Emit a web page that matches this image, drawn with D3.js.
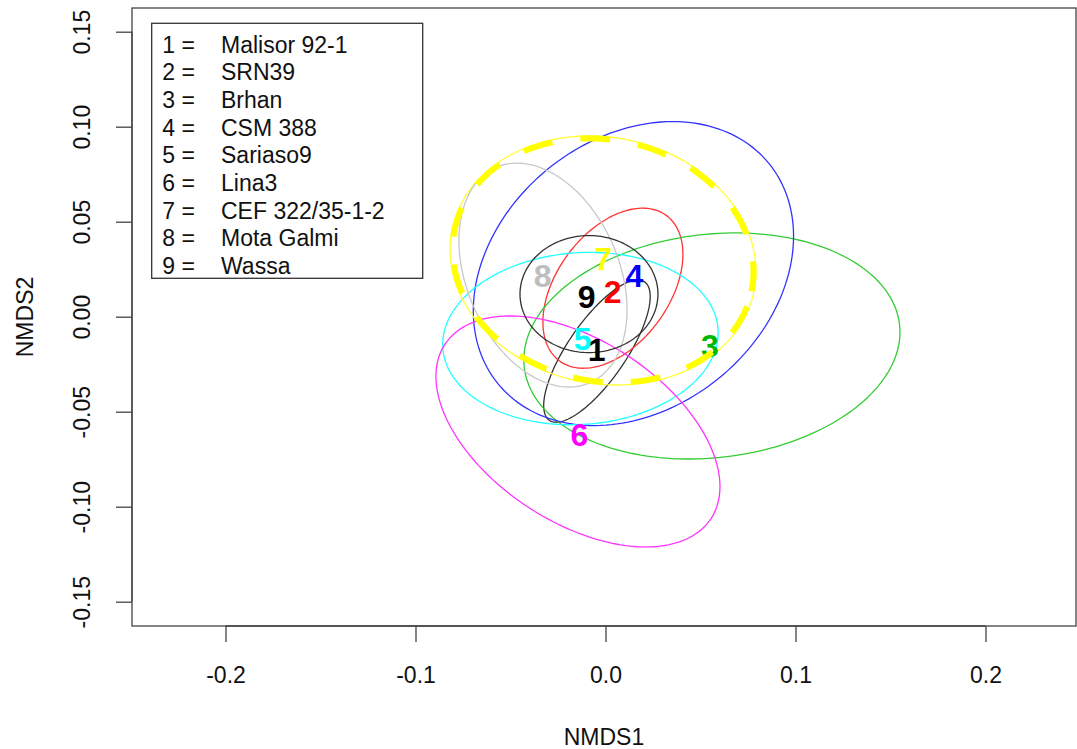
<!DOCTYPE html>
<html>
<head>
<meta charset="utf-8">
<script src="https://cdn.jsdelivr.net/npm/d3@7"></script>
<style>
  body { margin: 0; background: #fff; }
  svg text { font-family: "Liberation Sans", Arial, Helvetica, sans-serif; }
</style>
</head>
<body>
<div id="chart"></div>
<script>
// NMDS ordination, group ellipses + centroid labels
var groups = ["1", "2", "3", "4", "5", "6", "7", "8", "9"];
var names = ["Malisor 92-1", "SRN39", "Brhan", "CSM 388", "Sariaso9",
             "Lina3", "CEF 322/35-1-2", "Mota Galmi", "Wassa"];

// centroid positions (NMDS1, NMDS2)
var centX = [-0.0046, 0.0038, 0.0550, 0.0152, -0.0120, -0.0138, -0.0012, -0.0331, -0.0099];
var centY = [-0.0175, 0.0132, -0.0149, 0.0219, -0.0112, -0.0620, 0.0309, 0.0219, 0.0109];

// ellipse centre, semi axes and rotation (degrees)
var ellX = [-0.0045, 0.0039, 0.0560, 0.0147, -0.0132, -0.0145, -0.0013, -0.0329, -0.0087];
var ellY = [-0.0181, 0.0150, -0.0154, 0.0227, -0.0115, -0.0604, 0.0296, 0.0219, 0.0119];
var ellA = [0.0442, 0.0475, 0.0994, 0.0919, 0.0726, 0.0837, 0.0811, 0.0618, 0.0363];
var ellB = [0.0153, 0.0296, 0.0588, 0.0711, 0.0452, 0.0477, 0.0648, 0.0401, 0.0308];
var ellAng = [55.5, 53.8, 6.5, 39, 4, -33.2, -11.7, -66.6, 0];

// extra dashed ellipse for group 7
var dashEll = {x: -0.0013, y: 0.0296, a: 0.0798, b: 0.0635, ang: -11.7};

var xTicks = [-0.2, -0.1, 0.0, 0.1, 0.2];
var xTickLabels = ["-0.2", "-0.1", "0.0", "0.1", "0.2"];
var yTicks = [-0.15, -0.10, -0.05, 0.00, 0.05, 0.10, 0.15];
var yTickLabels = ["-0.15", "-0.10", "-0.05", "0.00", "0.05", "0.10", "0.15"];

var lineCols = ["#333333", "#ff3333", "#33cc33", "#3333ff", "#22ffff", "#ff33ff", "#ffff33", "#c8c8c8", "#333333"];
var textCols = ["#000000", "#ff0000", "#00b800", "#0000ff", "#00ffff", "#ff00ff", "#ffff00", "#bebebe", "#000000"];

var W = 1077, H = 749;
var box = {left: 132, right: 1076, top: 8, bottom: 626};

var svg = d3.select("#chart").append("svg")
    .attr("width", W)
    .attr("height", H);

var x = d3.scaleLinear()
    .domain([(box.left - 605.5) / 1900, (box.right - 605.5) / 1900])
    .range([box.left, box.right]);
var y = d3.scaleLinear()
    .domain([(316.7 - box.bottom) / 1900, (316.7 - box.top) / 1900])
    .range([box.bottom, box.top]);

// clip everything to plot region
svg.append("clipPath").attr("id", "plotclip")
  .append("rect")
    .attr("x", box.left).attr("y", box.top)
    .attr("width", box.right - box.left).attr("height", box.bottom - box.top);

function ellipsePoints(cx, cy, a, b, angDeg) {
  var th = angDeg * Math.PI / 180, pts = [];
  for (var k = 0; k < 180; k++) {
    var t = k / 180 * 2 * Math.PI;
    var ex = a * Math.cos(t), ey = b * Math.sin(t);
    pts.push([cx + ex * Math.cos(th) - ey * Math.sin(th),
              cy + ex * Math.sin(th) + ey * Math.cos(th)]);
  }
  return pts;
}

var line = d3.line()
    .x(function(d) { return x(d[0]); })
    .y(function(d) { return y(d[1]); })
    .curve(d3.curveLinearClosed);

var plot = svg.append("g").attr("clip-path", "url(#plotclip)");

plot.selectAll("path.ell")
    .data(groups)
  .enter().append("path")
    .attr("class", "ell")
    .attr("d", function(d, i) { return line(ellipsePoints(ellX[i], ellY[i], ellA[i], ellB[i], ellAng[i])); })
    .attr("fill", "none")
    .attr("stroke", function(d, i) { return lineCols[i]; })
    .attr("stroke-width", 1.3);

plot.selectAll("text.lab")
    .data(groups)
  .enter().append("text")
    .attr("class", "lab")
    .attr("x", function(d, i) { return x(centX[i]); })
    .attr("y", function(d, i) { return y(centY[i]); })
    .attr("dy", "0.36em")
    .attr("text-anchor", "middle")
    .attr("font-size", "32px")
    .attr("font-weight", "bold")
    .attr("fill", function(d, i) { return textCols[i]; })
    .text(function(d) { return d; });

plot.append("path")
    .attr("d", line(ellipsePoints(dashEll.x, dashEll.y, dashEll.a, dashEll.b, dashEll.ang)))
    .attr("fill", "none")
    .attr("stroke", "#ffff00")
    .attr("stroke-width", 6)
    .attr("stroke-dasharray", "30 28");

// box
svg.append("rect")
    .attr("x", box.left).attr("y", box.top)
    .attr("width", box.right - box.left).attr("height", box.bottom - box.top)
    .attr("fill", "none")
    .attr("stroke", "#444")
    .attr("stroke-width", 1.3);

// x axis
var xAxis = svg.append("g")
    .attr("transform", "translate(0," + box.bottom + ")")
    .call(d3.axisBottom(x).tickValues(xTicks).tickSize(16).tickSizeOuter(0)
      .tickFormat(function(d, i) { return xTickLabels[i]; }));
xAxis.select(".domain").remove();
xAxis.append("line")
    .attr("x1", x(xTicks[0])).attr("x2", x(xTicks[xTicks.length - 1]))
    .attr("stroke", "#444").attr("stroke-width", 1.3);
xAxis.selectAll(".tick line").attr("stroke", "#444").attr("stroke-width", 1.3);
xAxis.selectAll(".tick text")
    .attr("y", 57).attr("dy", null)
    .attr("font-size", "23px")
    .attr("font-family", "Liberation Sans, Arial, sans-serif")
    .attr("fill", "#111");

// y axis
var yAxis = svg.append("g")
    .attr("transform", "translate(" + box.left + ",0)")
    .call(d3.axisLeft(y).tickValues(yTicks).tickSize(16).tickSizeOuter(0)
      .tickFormat(function(d, i) { return yTickLabels[i]; }));
yAxis.select(".domain").remove();
yAxis.append("line")
    .attr("y1", y(yTicks[0])).attr("y2", y(yTicks[yTicks.length - 1]))
    .attr("stroke", "#444").attr("stroke-width", 1.3);
yAxis.selectAll(".tick line").attr("stroke", "#444").attr("stroke-width", 1.3);
yAxis.selectAll(".tick text")
    .attr("x", null).attr("dy", null)
    .attr("text-anchor", "middle")
    .attr("transform", "translate(-42,0) rotate(-90)")
    .attr("font-size", "23px")
    .attr("font-family", "Liberation Sans, Arial, sans-serif")
    .attr("fill", "#111");

// axis titles
svg.append("text")
    .attr("x", (box.left + box.right) / 2)
    .attr("y", 745)
    .attr("text-anchor", "middle")
    .attr("font-size", "23px")
    .attr("fill", "#111")
    .text("NMDS1");

svg.append("text")
    .attr("transform", "translate(33," + (box.top + box.bottom) / 2 + ") rotate(-90)")
    .attr("text-anchor", "middle")
    .attr("font-size", "23px")
    .attr("fill", "#111")
    .text("NMDS2");

// legend
var legend = svg.append("g");
legend.append("rect")
    .attr("x", 151.7).attr("y", 23.3)
    .attr("width", 271).attr("height", 255)
    .attr("fill", "#fff")
    .attr("stroke", "#333")
    .attr("stroke-width", 1.3);

var rows = legend.selectAll("g.row")
    .data(groups)
  .enter().append("g")
    .attr("class", "row")
    .attr("transform", function(d, i) { return "translate(0," + (52.5 + i * 27.7) + ")"; });
rows.append("text")
    .attr("x", 162.3)
    .attr("font-size", "23px")
    .attr("fill", "#111")
    .text(function(d) { return d + " ="; });
rows.append("text")
    .attr("x", 221)
    .attr("font-size", "23px")
    .attr("fill", "#111")
    .text(function(d, i) { return names[i]; });
</script>
</body>
</html>
